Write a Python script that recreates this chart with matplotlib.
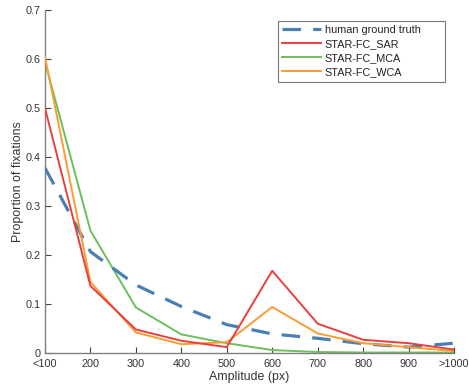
import matplotlib
matplotlib.use("Agg")
import matplotlib.pyplot as plt

plt.rcParams['font.family'] = ['Liberation Sans', 'DejaVu Sans']

# bins of saccade amplitude
categories = ['<100', '200', '300', '400', '500', '600', '700', '800', '900', '>1000']

human = [0.378, 0.207, 0.139, 0.095, 0.058, 0.039, 0.030, 0.019, 0.012, 0.020]
sar = [0.500, 0.137, 0.048, 0.025, 0.012, 0.168, 0.060, 0.027, 0.020, 0.007]
mca = [0.595, 0.250, 0.093, 0.038, 0.020, 0.006, 0.002, 0.001, 0.001, 0.001]
wca = [0.605, 0.145, 0.042, 0.018, 0.022, 0.094, 0.040, 0.020, 0.012, 0.004]

x = list(range(len(categories)))

fig = plt.figure(figsize=(4.69, 3.86), dpi=100)
ax = fig.add_axes([45 / 469, 33 / 386, 409 / 469, 342.6 / 386])

ax.plot(x, human, color='#4a80b1', lw=2.3, dashes=(5.8, 3.8), label='human ground truth', zorder=3)
ax.plot(x, sar, color='#e8403f', lw=1.4, label='STAR-FC_SAR', zorder=4)
ax.plot(x, mca, color='#6cbf5c', lw=1.4, label='STAR-FC_MCA', zorder=2)
ax.plot(x, wca, color='#f89c33', lw=1.4, label='STAR-FC_WCA', zorder=3)

ax.set_xlim(0, 9)
ax.set_ylim(0, 0.7)
ax.set_xticks(x)
ax.set_xticklabels(categories)
ax.set_yticks([0, 0.1, 0.2, 0.3, 0.4, 0.5, 0.6, 0.7])
ax.set_yticklabels(['0', '0.1', '0.2', '0.3', '0.4', '0.5', '0.6', '0.7'])

for s in ['top', 'right']:
    ax.spines[s].set_visible(False)
for s in ['left', 'bottom']:
    ax.spines[s].set_color('#808080')
    ax.spines[s].set_linewidth(1.0)
ax.tick_params(direction='in', length=4, width=0.8, color='#404040',
               labelsize=7.8, labelcolor='#333333', pad=3)
ax.tick_params(axis='x', pad=4.5)

ax.set_xlabel('Amplitude (px)', fontsize=8.9, color='#333333', labelpad=1)
ax.set_ylabel('Proportion of fixations', fontsize=8.9, color='#333333', labelpad=1)

leg = ax.legend(loc='upper left', bbox_to_anchor=(278 / 469, 300 / 386, 167 / 469, 65.5 / 386),
                bbox_transform=fig.transFigure, mode='expand', borderaxespad=0,
                fontsize=7.8, handlelength=3.6, handletextpad=0.3, borderpad=0.4,
                labelspacing=0.38, fancybox=False, frameon=True)
leg.get_frame().set_edgecolor('#555555')
leg.get_frame().set_linewidth(0.8)
for t in leg.get_texts():
    t.set_color('#222222')

fig.savefig('out.png', dpi=100)
